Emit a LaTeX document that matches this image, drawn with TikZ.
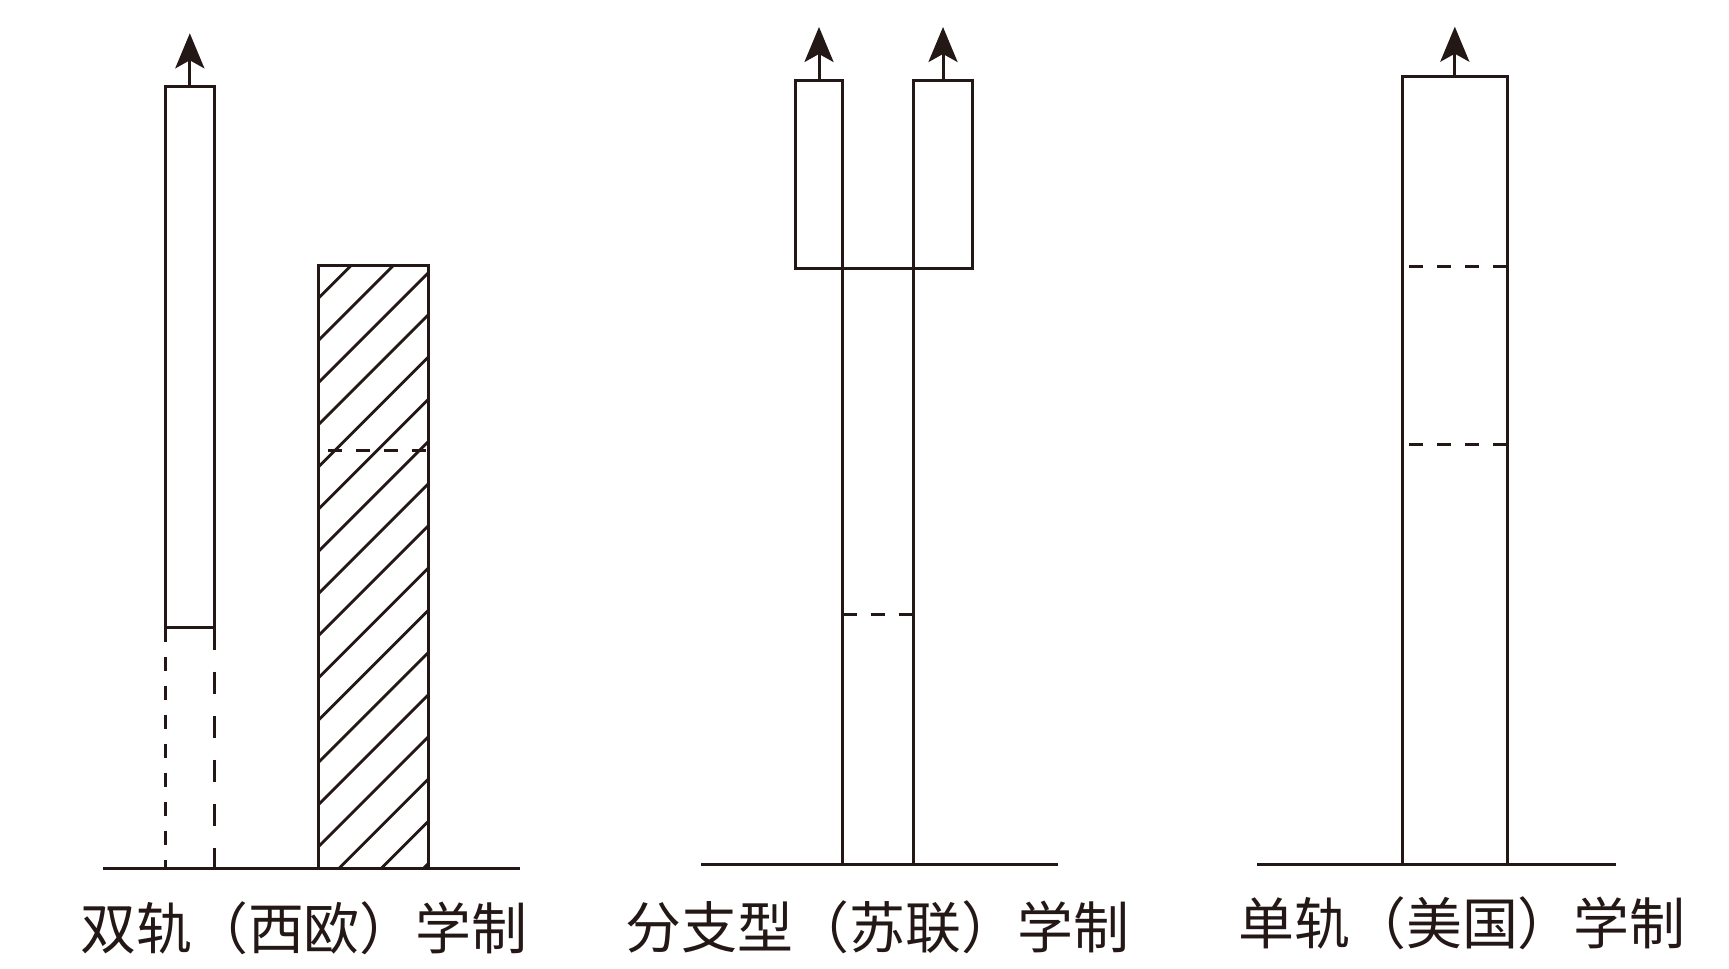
\documentclass[tikz,border=0pt]{standalone}
\usepackage{fontspec}
\newfontfamily\cjk{Noto Sans CJK SC}
\usepackage{tikz}
\usetikzlibrary{positioning,arrows.meta}
\definecolor{ink}{RGB}{35,24,21}
\tikzset{
  >={Stealth[length=3.5mm,width=2.9mm,inset=0.8mm]},
  bar/.style={draw=ink,line width=0.85pt,inner sep=0pt,outer sep=0pt,
    anchor=north west},
  up/.style={->,draw=ink,line width=0.85pt},
  ground/.style={draw=ink,line width=0.85pt},
  rail/.style={draw=ink,line width=0.85pt},
  gap/.style={draw=ink,line width=0.85pt,dash pattern=on 0.14cm off 0.14cm},
  hatchline/.style={draw=ink,line width=0.8pt},
  caption/.style={font=\cjk\fontsize{15.9pt}{16pt}\selectfont,text=ink,
    inner sep=0pt},
}

\begin{document}
\begin{tikzpicture}[x=0.01cm,y=-0.01cm]
  \useasboundingbox (0,0) rectangle (1729,969);

  % dual track (western europe)
  \coordinate (g1w) at (103,868.3);
  \coordinate (g1e) at (520,868.3);
  \node[bar,minimum width=0.49cm,minimum height=5.41cm] (acad) at (165.3,86.3) {};
  \node[bar,minimum width=1.10cm,minimum height=6.026cm] (mass) at (318.7,265.7) {};
  \begin{scope}
    \clip (mass.south west) rectangle (mass.north east);
    \foreach \k in {0,...,16}
      \draw[hatchline] (318.7,297.9+42.2*\k) -- ++(170,-170);
  \end{scope}
  \draw[rail] (mass.south west) rectangle (mass.north east);
  \draw[gap] (328,450.7) -- (428.7,450.7);
  \draw[rail,dash pattern=on 0.14cm off 0.15cm] (acad.south west) -- (acad.south west |- g1w);
  \draw[rail,dash pattern=on 0.22cm off 0.22cm] (acad.south east) -- (acad.south east |- g1w);
  \coordinate[above=5.3mm of acad.north] (acadtip);
  \draw[up] (acad.north) -- (acadtip);
  \draw[ground] (g1w) -- (g1e);
  \node[caption] (cap1) at (304,928) {双轨（西欧）学制};

  % branching type (soviet union)
  \coordinate (g2w) at (701,864.3);
  \coordinate (g2e) at (1058,864.3);
  \node[bar,minimum width=0.474cm,minimum height=1.883cm] (brl) at (795.3,80) {};
  \node[bar,minimum width=0.586cm,minimum height=1.883cm] (brr) at (913.7,80) {};
  \draw[rail] (brl.south east) -- (brr.south west);
  \draw[rail] (brl.south east) -- (brl.south east |- g2w);
  \draw[rail] (brr.south west) -- (brr.south west |- g2w);
  \draw[gap] (842.7,614) -- (913.7,614);
  \coordinate[above=5.3mm of brl.north] (brltip);
  \coordinate[above=5.3mm of brr.north] (brrtip);
  \draw[up] (brl.north) -- (brltip);
  \draw[up] (brr.north) -- (brrtip);
  \draw[ground] (g2w) -- (g2e);
  \node[caption] (cap2) at (877.5,927.5) {分支型（苏联）学制};

  % single track (united states)
  \coordinate (g3w) at (1257,864.3);
  \coordinate (g3e) at (1616,864.3);
  \node[bar,minimum width=1.05cm,minimum height=7.876cm] (single) at (1402.3,76.7) {};
  \draw[gap] (1409,266.7) -- (1507.3,266.7);
  \draw[gap] (1409,444) -- (1507.3,444);
  \coordinate[above=5.0mm of single.north] (singletip);
  \draw[up] (single.north) -- (singletip);
  \draw[ground] (g3w) -- (g3e);
  \node[caption] (cap3) at (1462,923.5) {单轨（美国）学制};
\end{tikzpicture}
\end{document}
